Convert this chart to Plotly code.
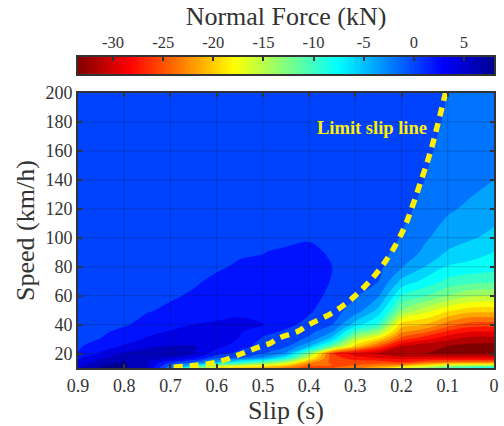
import plotly.graph_objects as go

speeds = [10,12,14,17,20,25,30,35,40,50,60,70,80,90,100,120,140,160,180,200]
slips = [0.9,0.85,0.8,0.75,0.7,0.65,0.6,0.55,0.5,0.45,0.4,0.35,0.3,0.25,0.2,0.15,0.1,0.05,0.0]

z_s090 = [5.4,4.4,3.6,2.7,1.1,.7,.5,.4,.3,.2,.1,.1,.1,0,0,0,0,0,0,0]
z_s085 = [7.2,6.9,5.8,4.8,3.3,2.2,1.05,.7,.5,.3,.2,.1,.1,.1,0,0,0,0,0,0]
z_s080 = [7.5,7.3,7.05,6,5.2,3.2,2.3,1.5,.8,.5,.3,.2,.1,.1,.1,0,0,0,0,0]
z_s075 = [5.3,5.3,5.2,5.3,5.6,4.8,3.2,2.6,1.6,.85,.6,.4,.3,.2,.1,.1,0,0,0,0]
z_s070 = [-2.5,-1,1.3,4.9,5.8,5.1,3.6,3.1,2.5,1.3,.8,.4,.3,.2,.2,.1,.1,0,0,0]
z_s065 = [-11,-5.5,-1,3,5,5.2,3.8,3.4,3,1.8,1.2,.8,.4,.3,.2,.1,.1,.1,0,0]
z_s060 = [-20,-13,-5,-.5,1.8,3.8,3.7,3.6,3.4,1.9,1.6,1.3,.8,.4,.3,.2,.1,.1,.1,0]
z_s055 = [-21,-15,-8.5,-1,.3,1.8,2.9,3.2,3.3,2.7,2,1.7,1.2,.8,.4,.2,.1,.1,.1,0]
z_s050 = [-22,-17,-11.5,-3.5,-1,.2,.7,1.6,3.05,2.2,1.9,1.7,1.3,.95,.4,.1,.1,.1,.1,0]
z_s045 = [-24,-20,-15,-8,-3.5,-.7,.2,.7,1.5,2.2,2.2,2,1.8,1.3,.5,.2,.1,.1,.1,.1]
z_s040 = [-26,-24.5,-22.5,-17,-13,-5,-1.5,-.3,.4,1.3,1.6,1.8,1.8,1.5,.8,.3,.1,.1,.1,.1]
z_s035 = [-25,-25,-25.5,-26,-26.7,-12,-6,-3,-1,-.2,.6,.9,1,.7,.3,.1,.1,.1,.1,.1]
z_s030 = [-24,-25,-26,-28,-30,-20,-15.5,-10.5,-6,-1.8,-.8,-.5,-.3,-.2,-.1,0,0,.1,.1,.1]
z_s025 = [-21,-24,-26,-29,-31.5,-25.5,-19.5,-14,-9.5,-5.5,-2.8,-1,-.5,-.3,-.1,0,0,0,.1,.1]
z_s020 = [-17,-23,-27,-30,-33,-31,-26,-22.5,-20,-13,-9,-5.5,-2.8,-1.7,-1.1,-.6,-.4,-.3,-.2,-.1]
z_s015 = [-14,-20,-25,-30,-33,-32.5,-28.5,-24.5,-21,-16,-10.8,-7.6,-5,-3.4,-2.7,-1.4,-1,-.7,-.5,-.3]
z_s010 = [-10,-17,-24,-30,-33,-33,-30.5,-27.5,-24,-18.5,-13,-9.5,-7.2,-5.2,-4,-2.7,-1.9,-1.5,-1.2,-1]
z_s005 = [-8,-16,-24,-30,-33,-33.6,-32,-29,-26,-20,-14.7,-10.3,-7.7,-6,-4.8,-3.4,-2.4,-1.8,-1.4,-1.2]
z_s000 = [-7,-16,-24,-30,-33,-33.8,-32,-29,-26,-20,-15,-10.5,-8.2,-7,-5.5,-4.2,-3,-2.2,-1.8,-1.5]

columns = [z_s090,z_s085,z_s080,z_s075,z_s070,z_s065,z_s060,z_s055,z_s050,z_s045,
           z_s040,z_s035,z_s030,z_s025,z_s020,z_s015,z_s010,z_s005,z_s000]
z_rows = [list(r) for r in zip(*columns)]

limit_slip = [.693,.6,.545,.513,.485,.463,.426,.4,.345,.3,.258,.222,.194,.183,.155,.136,.105]
limit_speed = [10.5,14,20,24,27,31,35,40,49,60,74,90,107,116,142,161,200]

x_ticks = [0.9,0.8,0.7,0.6,0.5,0.4,0.3,0.2,0.1,0]
x_labels = ["0.9","0.8","0.7","0.6","0.5","0.4","0.3","0.2","0.1","0"]
y_ticks = [20,40,60,80,100,120,140,160,180,200]
cb_ticks = [-30,-25,-20,-15,-10,-5,0,5]
cb_labels = ["-30","-25","-20","-15","-10","-5","0","5"]
Z_MIN, Z_MAX = -33.5, 8
cb_values = [Z_MIN + i*0.25 for i in range(int((Z_MAX-Z_MIN)/0.25)+1)]

jet = [[0,"rgb(128,0,0)"],[0.125,"rgb(255,0,0)"],[0.375,"rgb(255,255,0)"],
       [0.625,"rgb(0,255,255)"],[0.875,"rgb(0,0,255)"],[1,"rgb(0,0,143)"]]
FONT = "Liberation Serif"
INK = "#333333"

fig = go.Figure()
fig.add_trace(go.Contour(x=slips, y=speeds, z=z_rows, colorscale=jet, zmin=Z_MIN, zmax=Z_MAX,
                         autocontour=False, contours=dict(start=-33, end=7, size=2, coloring="fill"),
                         line=dict(width=0), showscale=False, hoverinfo="skip"))
gx, gy = [], []
for t in x_ticks[1:-1]:
    gx += [t, t, None]; gy += [10, 200, None]
for t in y_ticks[:-1]:
    gx += [0.9, 0, None]; gy += [t, t, None]
fig.add_trace(go.Scatter(x=gx, y=gy, mode="lines", line=dict(color="rgba(20,20,20,0.2)", width=1),
                         showlegend=False, hoverinfo="skip"))
fig.add_trace(go.Scatter(x=limit_slip, y=limit_speed, mode="lines", showlegend=False,
                         line=dict(color="#FFF000", width=5.5, dash="9px,7px", shape="spline")))
fig.add_trace(go.Heatmap(x=cb_values, y=[0,1], z=[cb_values, cb_values], colorscale=jet,
                         zmin=Z_MIN, zmax=Z_MAX, showscale=False, xaxis="x2", yaxis="y2", hoverinfo="skip"))

axis_common = dict(showline=True, linecolor=INK, linewidth=2, ticks="inside", ticklen=4,
                   tickcolor=INK, tickwidth=1.5, showgrid=False, zeroline=False)
tick18 = dict(family=FONT, size=18, color=INK)
tick16 = dict(family=FONT, size=16.5, color=INK)
title_font = dict(family=FONT, size=26, color=INK)
fig.update_layout(
    width=504, height=426, margin=dict(l=78, r=5, t=57, b=58),
    paper_bgcolor="white", plot_bgcolor="white", showlegend=False,
    font=dict(family=FONT, color=INK),
    xaxis=dict(range=[0.9,0], tickvals=x_ticks, ticktext=x_labels, mirror="ticks", anchor="y",
               tickfont=tick18, title=dict(text="Slip (s)", font=title_font, standoff=1), **axis_common),
    yaxis=dict(range=[10,200], tickvals=y_ticks, mirror="ticks", domain=[0,0.884], anchor="x",
               tickfont=tick18, title=dict(text="Speed (km/h)", font=title_font, standoff=3), **axis_common),
    xaxis2=dict(range=[Z_MIN,Z_MAX], tickvals=cb_ticks, ticktext=cb_labels, side="top", anchor="y2", mirror=True,
                tickfont=tick16, title=dict(text="Normal Force (kN)", font=title_font, standoff=0), **axis_common),
    yaxis2=dict(range=[0,1], domain=[0.945,1], anchor="x2", showticklabels=False, ticks="",
                showline=True, linecolor=INK, linewidth=2, mirror=True, showgrid=False, zeroline=False),
    annotations=[dict(x=0.265, y=176, text="<b>Limit slip line</b>", showarrow=False,
                      font=dict(family=FONT, size=18.5, color="#FFF000"))],
)
fig.write_html("out.html", config={"displayModeBar": False},
               post_script="document.body.style.margin='0';")
